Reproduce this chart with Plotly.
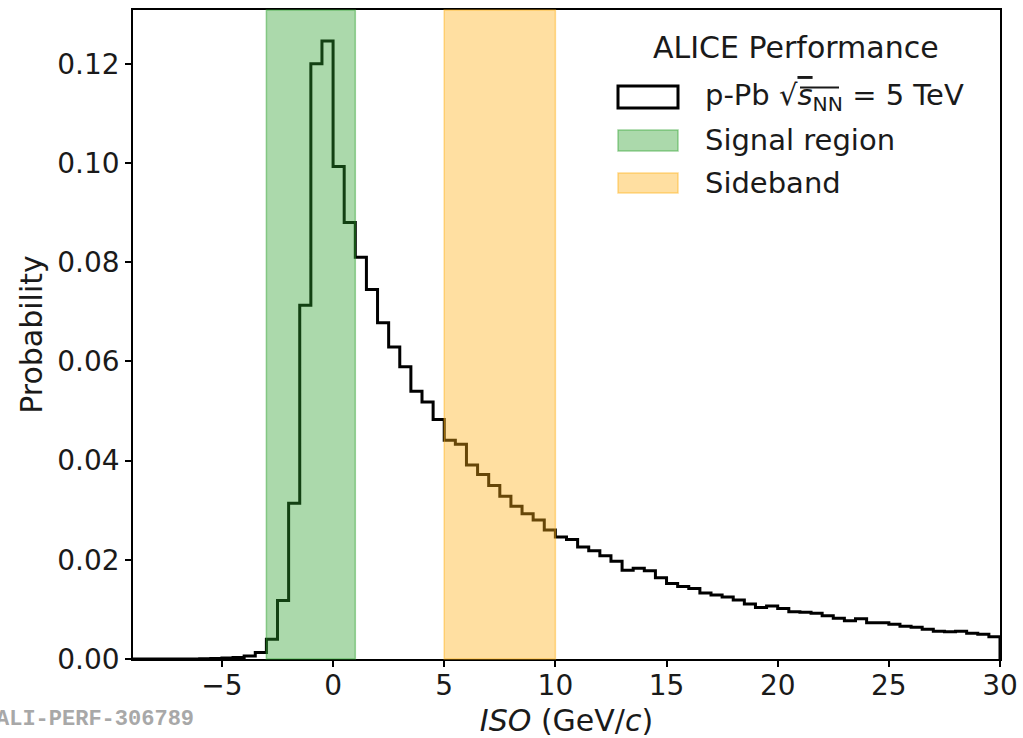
import numpy as np
import plotly.graph_objects as go

# ---------------- data ----------------
bin_edges = np.arange(-9.0, 30.0 + 0.25, 0.5)  # 78 bins of width 0.5 GeV/c
probability = [
    0.0, 0.0, 0.0, 0.0, 0.0, 0.0, 0.00005, 0.0001, 0.0002,
    0.0003, 0.0006, 0.0013, 0.0040, 0.0118, 0.0314, 0.0713, 0.1200, 0.1246,
    0.0993, 0.0880, 0.0810, 0.0745, 0.0678, 0.0629, 0.0589, 0.0540, 0.0518,
    0.0483, 0.0441, 0.0433, 0.0391, 0.0372, 0.0350, 0.0328, 0.0308, 0.0293,
    0.0280, 0.0260, 0.0246, 0.0241, 0.0226, 0.0218, 0.0208, 0.0197, 0.0179,
    0.0183, 0.0178, 0.0164, 0.0152, 0.0146, 0.0142, 0.0133, 0.0129, 0.0125,
    0.0119, 0.0111, 0.0104, 0.0107, 0.0102, 0.0095, 0.0094, 0.0092, 0.0087,
    0.0082, 0.0077, 0.0081, 0.0073, 0.0073, 0.0070, 0.0066, 0.0064, 0.0060,
    0.0056, 0.0055, 0.0056, 0.0052, 0.0050, 0.0045,
]
signal_region = [-3.0, 1.0]
sideband = [5.0, 10.0]
x_ticks = [-5, 0, 5, 10, 15, 20, 25, 30]
y_ticks = [0.00, 0.02, 0.04, 0.06, 0.08, 0.10, 0.12]
x_limits = [-9.0, 30.0]

legend_title = "ALICE Performance"
hist_label = ("p-Pb √<span style='text-decoration:overline'><i>s</i></span><sub>NN</sub>"
              " = 5 TeV")
signal_label = "Signal region"
sideband_label = "Sideband"
watermark = "<b>ALI-PERF-306789</b>"

# ---------------- styles ----------------
FONT = "DejaVu Sans"
TXT = "#1a1a1a"
GREEN_FILL = "rgba(44,160,44,0.4)"
GREEN_EDGE = "rgba(44,160,44,0.45)"
ORANGE_FILL = "rgba(255,175,20,0.4)"
ORANGE_EDGE = "rgba(255,175,20,0.45)"

W, H = 1023, 738
ML, MR, MT, MB = 133, 23, 10, 79
PW, PH = W - ML - MR, H - MT - MB


def px(x):
    return (x - ML) / PW


def py(y):
    return (H - MB - y) / PH


# step histogram outline (matplotlib histtype='step' look)
step_x = list(bin_edges) + [bin_edges[-1]]
step_y = list(probability) + [probability[-1], 0.0]

fig = go.Figure()
fig.add_trace(go.Scatter(
    x=step_x, y=step_y, mode="lines", line_shape="hv",
    line=dict(color="black", width=3), showlegend=False, hoverinfo="skip",
))

y_top = max(probability) * 1.05

shapes = []
# shaded regions drawn above the histogram (semi-transparent)
for rng, fc, ec in [(signal_region, GREEN_FILL, GREEN_EDGE),
                    (sideband, ORANGE_FILL, ORANGE_EDGE)]:
    shapes.append(dict(type="rect", xref="x", yref="y domain",
                       x0=rng[0], x1=rng[1], y0=0, y1=1,
                       fillcolor=fc, line=dict(color=ec, width=1.5),
                       layer="above"))

# manual legend (matplotlib style, no frame)
icon_x0, icon_x1 = px(618), px(678)
shapes.append(dict(type="rect", xref="paper", yref="paper",
                   x0=icon_x0, x1=icon_x1, y0=py(108), y1=py(86),
                   fillcolor="white", line=dict(color="black", width=3)))
shapes.append(dict(type="rect", xref="paper", yref="paper",
                   x0=icon_x0, x1=icon_x1, y0=py(151), y1=py(130),
                   fillcolor=GREEN_FILL, line=dict(color=GREEN_EDGE, width=1.5)))
shapes.append(dict(type="rect", xref="paper", yref="paper",
                   x0=icon_x0, x1=icon_x1, y0=py(193), y1=py(173),
                   fillcolor=ORANGE_FILL, line=dict(color=ORANGE_EDGE, width=1.5)))
# radical bar continuing over the subscript
shapes.append(dict(type="line", xref="paper", yref="paper",
                   x0=px(800), x1=px(839), y0=py(87.5), y1=py(87.5),
                   line=dict(color=TXT, width=1.8)))

LEG_SIZE = 29
annotations = [
    dict(text=legend_title, xref="paper", yref="paper", x=px(796), y=py(47),
         xanchor="center", yanchor="middle", showarrow=False,
         font=dict(family=FONT, size=30, color=TXT)),
    dict(text=hist_label, xref="paper", yref="paper", x=px(703), y=py(97),
         xanchor="left", yanchor="middle", showarrow=False,
         font=dict(family=FONT, size=LEG_SIZE, color=TXT)),
    dict(text=signal_label, xref="paper", yref="paper", x=px(703), y=py(140),
         xanchor="left", yanchor="middle", showarrow=False,
         font=dict(family=FONT, size=LEG_SIZE, color=TXT)),
    dict(text=sideband_label, xref="paper", yref="paper", x=px(703), y=py(183),
         xanchor="left", yanchor="middle", showarrow=False,
         font=dict(family=FONT, size=LEG_SIZE, color=TXT)),
    dict(text=watermark, xref="paper", yref="paper", x=px(-6), y=py(719),
         xanchor="left", yanchor="middle", showarrow=False,
         font=dict(family="Liberation Mono", size=22, color="#a8a8a8")),
]

axis_common = dict(
    showline=True, linecolor="black", linewidth=1.5, mirror=True,
    ticks="outside", ticklen=6, tickwidth=1.5, tickcolor="black",
    showgrid=False, zeroline=False, automargin=False,
    tickfont=dict(family=FONT, size=28, color=TXT),
)

fig.update_layout(
    width=W, height=H,
    margin=dict(l=ML, r=MR, t=MT, b=MB, autoexpand=False),
    paper_bgcolor="white", plot_bgcolor="white",
    showlegend=False,
    shapes=shapes, annotations=annotations,
    xaxis=dict(range=x_limits, tickvals=x_ticks, ticklabelstandoff=-5,
               title=dict(text="<i>ISO</i> (GeV/<i>c</i>)", standoff=11,
                          font=dict(family=FONT, size=30, color=TXT)),
               **axis_common),
    yaxis=dict(range=[0, y_top], tickvals=y_ticks, tickformat=".2f",
               title=dict(text="Probability", standoff=6,
                          font=dict(family=FONT, size=30, color=TXT)),
               **axis_common),
)

fig.write_html("out.html")
